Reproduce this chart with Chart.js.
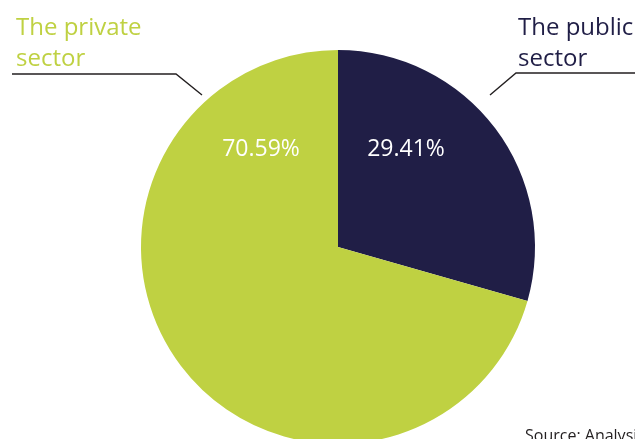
<!DOCTYPE html>
<html>
<head>
<meta charset="utf-8">
<script src="https://cdn.jsdelivr.net/npm/chart.js@4/dist/chart.umd.min.js"></script>
<style>
  html, body { margin: 0; padding: 0; background: #ffffff; overflow: hidden; }
  #wrap { position: relative; width: 635px; height: 500px; }
</style>
</head>
<body>
<div id="wrap"><canvas id="pie" width="635" height="500"></canvas></div>
<script>
// Share of the total by sector (percent)
const sectors = ['The public sector', 'The private sector'];
const shares = [29.41, 70.59];
const sectorColors = ['#201e46', '#bfd142'];
const nameLines = [['The public', 'sector'], ['The private', 'sector']];
const sourceNote = 'Source: Analysis';

const FONT = '"Open Sans", "Noto Sans", sans-serif';

// Callout names, leader lines, percentage labels and the source note
const annotate = {
  id: 'annotate',
  afterDatasetsDraw(chart) {
    const ctx = chart.ctx;
    const arcs = chart.getDatasetMeta(0).data;
    const cx = arcs[0].x, cy = arcs[0].y;
    ctx.save();

    // percentage values inside the slices
    ctx.fillStyle = '#ffffff';
    ctx.font = '23px ' + FONT;
    ctx.textAlign = 'center';
    ctx.textBaseline = 'middle';
    const valueOffsets = [[68, -98], [-77, -98]];
    shares.forEach((v, i) => {
      ctx.fillText(v.toFixed(2) + '%', cx + valueOffsets[i][0], cy + valueOffsets[i][1]);
    });

    // leader lines
    ctx.strokeStyle = '#231f20';
    ctx.lineWidth = 1.4;
    ctx.beginPath();
    ctx.moveTo(12, 74); ctx.lineTo(176, 74); ctx.lineTo(202, 95);
    ctx.moveTo(490, 95); ctx.lineTo(516, 73); ctx.lineTo(640, 73);
    ctx.stroke();

    // sector names
    ctx.font = '24px ' + FONT;
    ctx.textAlign = 'left';
    ctx.textBaseline = 'alphabetic';
    const namePos = [[518, 35], [16, 35]];
    nameLines.forEach((lines, i) => {
      ctx.fillStyle = sectorColors[i];
      lines.forEach((t, k) => ctx.fillText(t, namePos[i][0], namePos[i][1] + k * 31));
    });

    // source note
    ctx.fillStyle = '#231f20';
    ctx.font = '16px ' + FONT;
    ctx.fillText(sourceNote, 525, 441);
    ctx.restore();
  }
};

new Chart(document.getElementById('pie'), {
  type: 'pie',
  data: {
    labels: sectors,
    datasets: [{
      data: shares,
      backgroundColor: sectorColors,
      borderWidth: 0
    }]
  },
  options: {
    responsive: false,
    animation: false,
    layout: { padding: { top: 50, bottom: 56, left: 141, right: 100 } },
    plugins: {
      legend: { display: false },
      tooltip: { enabled: false }
    }
  },
  plugins: [annotate]
});
</script>
</body>
</html>
